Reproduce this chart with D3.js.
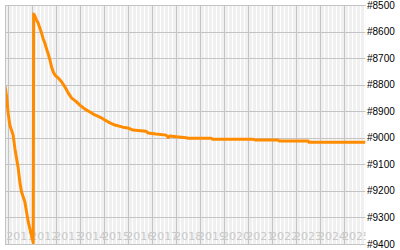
<!DOCTYPE html>
<html>
<head>
<meta charset="utf-8">
<script src="https://cdn.jsdelivr.net/npm/d3@7"></script>
<style>
html,body{margin:0;padding:0;background:#fff;}
svg{display:block;}
</style>
</head>
<body>
<svg id="chart" width="400" height="250"></svg>
<script>
// ---- data ----
const dates = ["2010-11-14","2010-12-10","2011-01-01","2011-01-26","2011-03-18","2011-04-13","2011-05-08","2011-06-03","2011-06-28","2011-07-24","2011-09-13","2011-10-09","2011-11-03","2011-12-10","2012-01-18","2012-01-24","2012-02-10","2012-03-07","2012-04-01","2012-04-27","2012-05-23","2012-06-18","2012-07-13","2012-08-08","2012-09-03","2012-09-28","2012-10-24","2012-11-18","2012-12-14","2013-02-02","2013-03-26","2013-05-16","2013-07-02","2013-08-22","2013-11-07","2013-12-28","2014-03-15","2014-05-31","2014-08-12","2014-10-28","2015-01-12","2015-03-30","2015-06-14","2015-10-12","2015-12-28","2016-03-14","2016-09-28","2016-10-31","2017-03-01","2017-08-01","2017-09-02","2017-09-28","2018-01-01","2018-06-03","2018-07-02","2019-06-18","2019-07-16","2021-03-18","2021-04-16","2022-04-01","2022-04-16","2023-07-02","2023-07-16","2025-11-22"];
const ranks = [8805,8847,8907,8952,8990,9039,9076,9114,9167,9204,9242,9280,9317,9355,9395,8534,8541,8556,8568,8587,8605,8628,8643,8666,8685,8707,8734,8752,8764,8775,8790,8809,8831,8850,8865,8877,8892,8903,8914,8922,8933,8944,8952,8960,8963,8971,8975,8982,8986,8990,8999,8993,8996,9000,9002,9002,9006,9006,9008,9008,9012,9012,9017,9017];
const yTicks = [8500,8600,8700,8800,8900,9000,9100,9200,9300,9400];
const yearLabels = ["2011","2012","2013","2014","2015","2016","2017","2018","2019","2020","2021","2022","2023","2024","2025"];

const parse = d3.timeParse("%Y-%m-%d");
const data = dates.map((d,i)=>({date:parse(d), rank:ranks[i]}));

const L=5, R=365.5, T=5, B=244;
const svg = d3.select("#chart");
const x = d3.scaleTime().domain([new Date(2010,10,14), new Date(2025,10,22)]).range([L,R]);
const y = d3.scaleLinear().domain([8500,9400]).range([T,B]);

svg.append("defs").append("clipPath").attr("id","clip")
  .append("rect").attr("x",L).attr("y",T).attr("width",R-L).attr("height",B-T);

const g = svg.append("g").attr("clip-path","url(#clip)");
g.append("rect").attr("x",L).attr("y",T).attr("width",R-L).attr("height",B-T).attr("fill","#f0f0f0");

// minor stripes (every 2 months)
const months = d3.timeMonth.every(2).range(x.domain()[0], x.domain()[1]).filter(d=>d.getMonth()!==0);
g.selectAll(".minor").data(months).join("line")
  .attr("x1",d=>Math.round(x(d))+0.5).attr("x2",d=>Math.round(x(d))+0.5)
  .attr("y1",T).attr("y2",B).attr("stroke","#fff").attr("stroke-width",1);

// year gridlines
const years = d3.timeYear.range(x.domain()[0], x.domain()[1]);
g.selectAll(".year").data(years).join("line")
  .attr("x1",d=>Math.round(x(d))+0.5).attr("x2",d=>Math.round(x(d))+0.5)
  .attr("y1",T).attr("y2",B).attr("stroke","#c4c4c4").attr("stroke-width",1);

// horizontal gridlines
g.selectAll(".hg").data(yTicks).join("line")
  .attr("x1",L).attr("x2",R).attr("y1",d=>Math.round(y(d))+0.5).attr("y2",d=>Math.round(y(d))+0.5)
  .attr("stroke","#c4c4c4").attr("stroke-width",1);

// year labels
g.selectAll(".yl").data(yearLabels).join("text")
  .attr("x",d=>(x(new Date(+d,0,1))+x(new Date(+d+1,0,1)))/2)
  .attr("y",240).attr("text-anchor","middle")
  .attr("font-family","DejaVu Sans, Verdana, sans-serif").attr("font-size","11px")
  .attr("fill","#c8c8c8").text(d=>d);

// line
const line = d3.line().x(d=>x(d.date)).y(d=>y(d.rank)).curve(d3.curveLinear);
g.append("path").datum(data).attr("d",line).attr("fill","none")
  .attr("stroke","#ff8c00").attr("stroke-width",3).attr("stroke-linejoin","round");

// borders
svg.append("line").attr("x1",L+0.5).attr("x2",L+0.5).attr("y1",T).attr("y2",B+1).attr("stroke","#c4c4c4");
svg.append("line").attr("x1",L).attr("x2",R).attr("y1",T+0.5).attr("y2",T+0.5).attr("stroke","#c4c4c4");
svg.append("line").attr("x1",L).attr("x2",R).attr("y1",B+0.5).attr("y2",B+0.5).attr("stroke","#c4c4c4");

// y labels
svg.selectAll(".ylab").data(yTicks).join("text")
  .attr("x",367).attr("y",d=>y(d)).attr("dy","0.35em")
  .attr("font-family","Liberation Sans, Arial, sans-serif").attr("font-size","10px")
  .attr("fill","#000").text(d=>"#"+d);
</script>
</body>
</html>
